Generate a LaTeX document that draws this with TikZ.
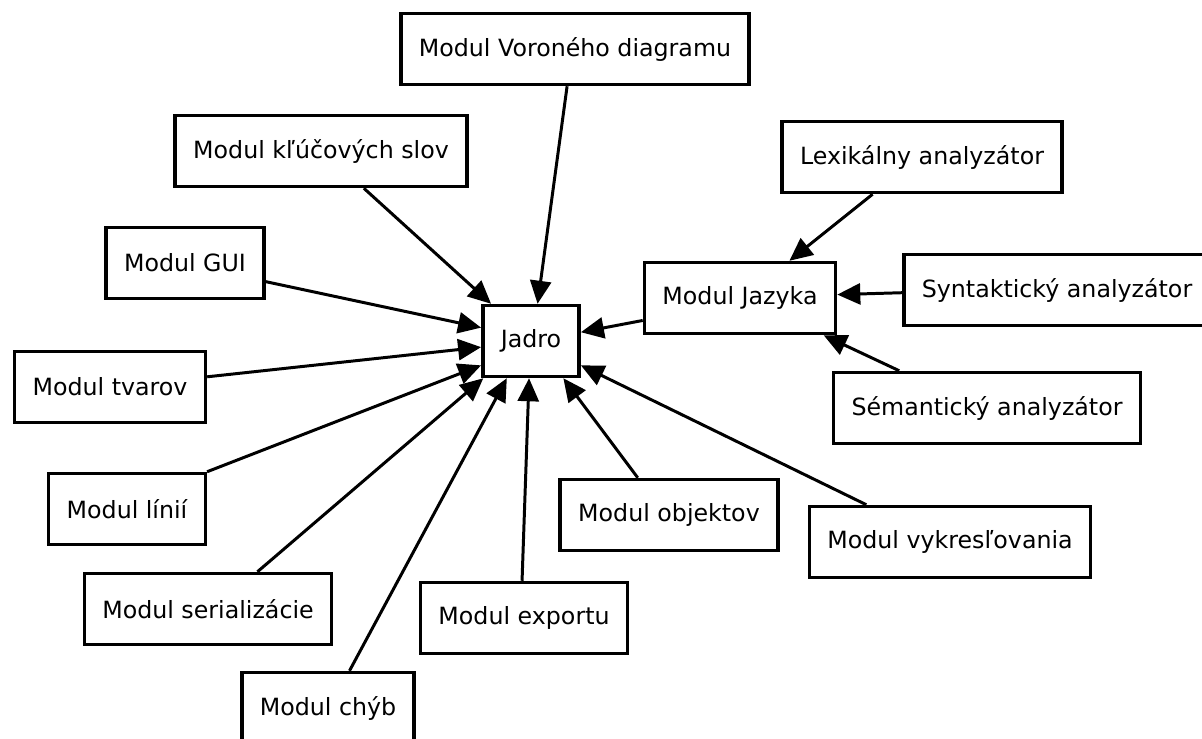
\documentclass[tikz,border=0pt]{standalone}
\usepackage{fontspec}
\setmainfont{DejaVu Sans}
\usepackage{tikz}
\usetikzlibrary{positioning,shapes,arrows.meta}

\begin{document}
\begin{tikzpicture}[x=0.02cm,y=-0.02cm,
		modul/.style={draw, line width=2pt, rectangle, minimum height=1.42cm,
			inner xsep=0.36cm, font=\fontsize{13.5}{16}\selectfont},
		sipka/.style={line width=1.7pt, -{Triangle[length=0.46cm,width=0.42cm]}}]

		\useasboundingbox (0,0) rectangle (1202,738);

		% Jadro a modul jazyka
		\node[modul] (jadro) at (531,341) {Jadro};
		\node[modul] (jazyk) at (740,298) {Modul Jazyka};

		% Moduly okolo jadra
		\node[modul] (voronoi) at (575,49) {Modul Voroného diagramu};
		\node[modul] (klucove) at (321,151) {Modul kľúčových slov};
		\node[modul] (gui) at (185,263) {Modul GUI};
		\node[modul] (tvary) at (110,387) {Modul tvarov};
		\node[modul] (linie) at (127,509) {Modul línií};
		\node[modul] (serial) at (208,609) {Modul serializácie};
		\node[modul] (chyby) at (328,708) {Modul chýb};
		\node[modul] (export) at (524,618) {Modul exportu};
		\node[modul] (objekty) at (669,515) {Modul objektov};
		\node[modul] (kreslenie) at (950,542) {Modul vykresľovania};

		% Analyzatory jazyka
		\node[modul] (lex) at (922,157) {Lexikálny analyzátor};
		\node[modul] (syn) at (1057,290) {Syntaktický analyzátor};
		\node[modul] (sem) at (987,408) {Sémantický analyzátor};

		% Spojenia do jadra
		\draw[sipka] (voronoi.258) -- (jadro.80);
		\draw[sipka] (klucove.319) -- (jadro.137);
		\draw[sipka] (gui.347) -- (jadro.165);
		\draw[sipka] (tvary.6) -- (jadro.187);
		\draw[sipka] (linie.north east) -- (jadro.206);
		\draw[sipka] (serial.37) -- (jadro.218);
		\draw[sipka] (chyby.60) -- (jadro.237);
		\draw[sipka] (export.93) -- (jadro.267);
		\draw[sipka] (objekty.130) -- (jadro.311);
		\draw[sipka] (kreslenie.156) -- (jadro.334);
		\draw[sipka] (jazyk.193) -- (jadro.10);

		% Spojenia do modulu jazyka
		\draw[sipka] (lex.217) -- (jazyk.37);
		\draw[sipka] (syn.181) -- (jazyk.2);
		\draw[sipka] (sem.157) -- (jazyk.336);

	\end{tikzpicture}
\end{document}
